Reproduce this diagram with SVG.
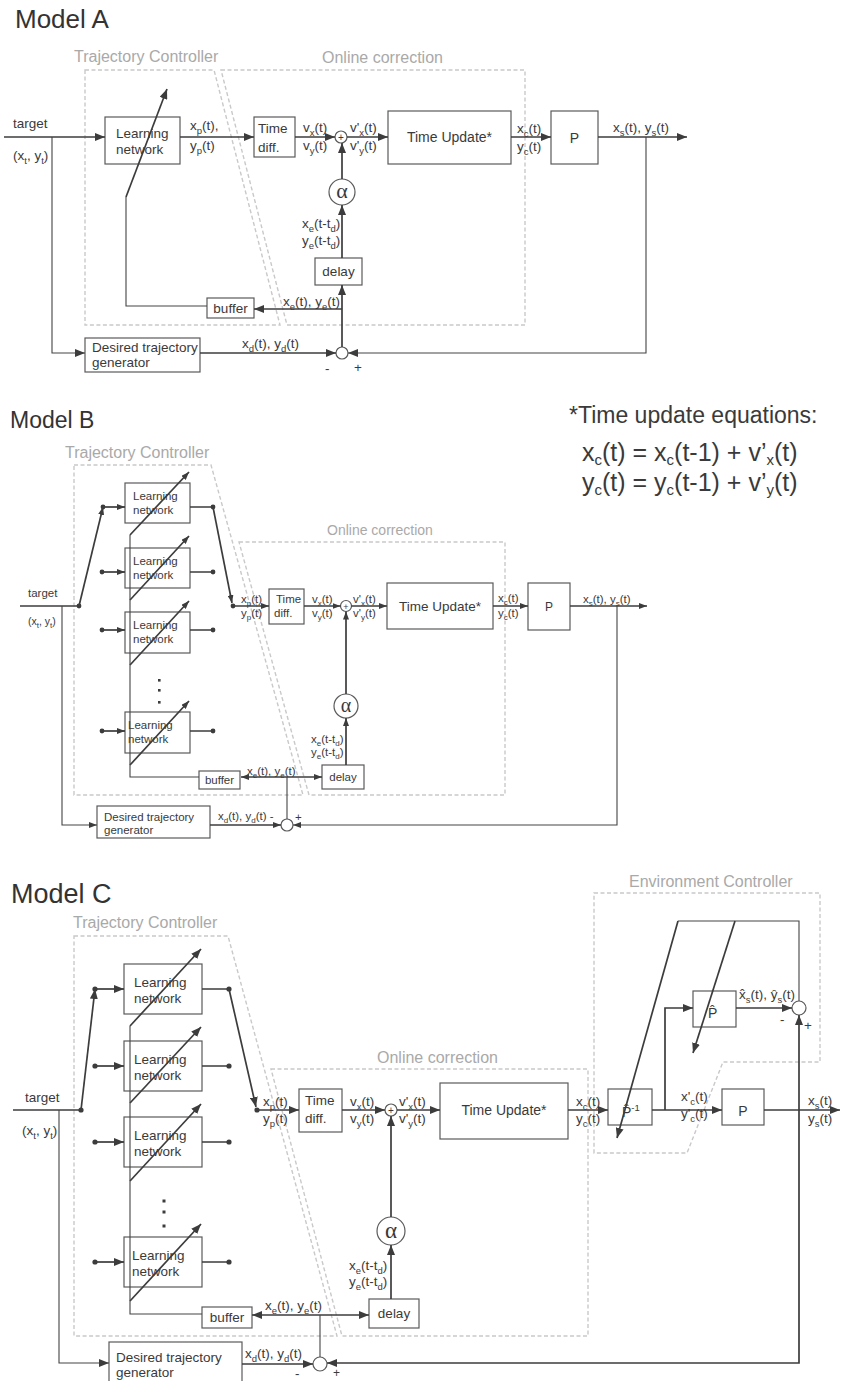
<svg xmlns="http://www.w3.org/2000/svg" width="841" height="1381" viewBox="0 0 841 1381">
<style>
text{font-family:"Liberation Sans",Arial,Helvetica,sans-serif;fill:#3a3a3a}
.ta{font-size:13.5px}
.tb{font-size:11.5px}
.sa{font-size:9.5px}
.sb{font-size:8px}
.eq{font-size:25px}
.es{font-size:15px}
.grp{font-size:16px;fill:#a9a9a9}
.bx{fill:#fff;stroke:#5a5a5a;stroke-width:1.2}
.dz{fill:none;stroke:#c9c9c9;stroke-width:1.4;stroke-dasharray:4 2.5}
.ln{fill:none;stroke:#3c3c3c;stroke-width:1.7}
.lt{fill:none;stroke:#444;stroke-width:1.1}
.ar{marker-end:url(#ah)}
.arb{marker-end:url(#ahs)}
.dot{fill:#3c3c3c}
.mid{text-anchor:middle}
.al{font-family:"Liberation Serif","Times New Roman",serif}
</style>
<defs>
<marker id="ah" viewBox="0 0 10 8" refX="10" refY="4" markerWidth="10" markerHeight="8" markerUnits="userSpaceOnUse" orient="auto"><path d="M0,0 L10,4 L0,8 z" fill="#3c3c3c"/></marker>
<marker id="ahs" viewBox="0 0 8 6" refX="8" refY="3" markerWidth="8" markerHeight="6" markerUnits="userSpaceOnUse" orient="auto"><path d="M0,0 L8,3 L0,6 z" fill="#3c3c3c"/></marker>
</defs>
<rect width="841" height="1381" fill="#fff"/>

<!-- ================= MODEL A ================= -->
<g id="modelA">
<text x="15" y="28" style="font-size:26px;fill:#333">Model A</text>
<g id="a-traj-ctrl"><polygon class="dz" points="85,70 214,70 280,325 85,325"/><text class="grp" x="74" y="62">Trajectory Controller</text></g>
<g id="a-online"><polygon class="dz" points="221,70 525,70 525,325 287,325"/><text class="grp" x="322" y="63">Online correction</text></g>
<g id="a-ln"><rect class="bx" x="105" y="117" width="75" height="47"/><text class="ta" x="116" y="138">Learning</text><text class="ta" x="116" y="154">network</text></g>
<g id="a-timediff"><rect class="bx" x="254" y="117" width="41" height="40"/><text class="ta" x="258" y="133">Time</text><text class="ta" x="258" y="152">diff.</text></g>
<g id="a-sum1"><circle class="bx" cx="341" cy="137" r="6"/><text class="mid" x="341" y="141" font-size="10">+</text></g>
<g id="a-timeupdate"><rect class="bx" x="388" y="111" width="123" height="53"/><text class="mid" x="449.5" y="142" font-size="14">Time Update*</text></g>
<g id="a-plant"><rect class="bx" x="551" y="111" width="47" height="53"/><text class="mid" x="574.5" y="143" font-size="14">P</text></g>
<g id="a-desired"><rect class="bx" x="85" y="338" width="115" height="34"/><text class="ta" x="92" y="352">Desired trajectory</text><text class="ta" x="92" y="367">generator</text></g>
<g id="a-sum2"><circle class="bx" cx="342" cy="353" r="6"/></g>
<g id="a-delay"><rect class="bx" x="315" y="258" width="47" height="27"/><text class="ta mid" x="338.5" y="276">delay</text></g>
<g id="a-alpha"><circle class="bx" cx="342" cy="192" r="13"/><text class="al mid" x="342" y="198" font-size="22">α</text></g>
<g id="a-buffer"><rect class="bx" x="207" y="298" width="47" height="20"/><text class="ta mid" x="230.5" y="313">buffer</text></g>
</g>

<g id="a-connectors">
<path class="ln ar" d="M4,137 H105"/>
<path class="lt ar" d="M52,137 V353 H85"/>
<path class="ln ar" d="M180,137 H254"/>
<path class="ln ar" d="M295,137 H335"/>
<path class="ln ar" d="M347,137 H388"/>
<path class="ln ar" d="M511,137 H551"/>
<path class="ln ar" d="M598,137 H687"/>
<path class="lt ar" d="M646,137 V353 H348"/>
<path class="ln ar" d="M200,353 H336"/>
<path class="ln ar" d="M342,347 V285"/>
<path class="ln ar" d="M342,309 H254"/>
<path class="ln ar" d="M342,258 V205"/>
<path class="ln ar" d="M342,179 V143"/>
<path class="lt" d="M207,306 H126 V197"/>
<path class="ln ar" d="M126,197 L167,89"/>
</g>
<g id="a-labels">
<text class="ta" x="13" y="128">target</text>
<text class="ta" x="13" y="160">(x<tspan class="sa" dy="3.5">t</tspan><tspan dy="-3.5">, y</tspan><tspan class="sa" dy="3.5">t</tspan><tspan dy="-3.5">)</tspan></text>
<text class="ta" x="190" y="130">x<tspan class="sa" dy="3.5">p</tspan><tspan dy="-3.5">(t),</tspan></text>
<text class="ta" x="190" y="150">y<tspan class="sa" dy="3.5">p</tspan><tspan dy="-3.5">(t)</tspan></text>
<text class="ta" x="303" y="132">v<tspan class="sa" dy="3.5">x</tspan><tspan dy="-3.5">(t)</tspan></text>
<text class="ta" x="303" y="150">v<tspan class="sa" dy="3.5">y</tspan><tspan dy="-3.5">(t)</tspan></text>
<text class="ta" x="350" y="132">v'<tspan class="sa" dy="3.5">x</tspan><tspan dy="-3.5">(t)</tspan></text>
<text class="ta" x="350" y="150">v'<tspan class="sa" dy="3.5">y</tspan><tspan dy="-3.5">(t)</tspan></text>
<text class="ta" x="517" y="133">x<tspan class="sa" dy="3.5">c</tspan><tspan dy="-3.5">(t)</tspan></text>
<text class="ta" x="517" y="151">y<tspan class="sa" dy="3.5">c</tspan><tspan dy="-3.5">(t)</tspan></text>
<text class="ta" x="613" y="132">x<tspan class="sa" dy="3.5">s</tspan><tspan dy="-3.5">(t), y</tspan><tspan class="sa" dy="3.5">s</tspan><tspan dy="-3.5">(t)</tspan></text>
<text class="ta" x="242" y="348">x<tspan class="sa" dy="3.5">d</tspan><tspan dy="-3.5">(t), y</tspan><tspan class="sa" dy="3.5">d</tspan><tspan dy="-3.5">(t)</tspan></text>
<text class="ta" x="283" y="306">x<tspan class="sa" dy="3.5">e</tspan><tspan dy="-3.5">(t), y</tspan><tspan class="sa" dy="3.5">e</tspan><tspan dy="-3.5">(t)</tspan></text>
<text class="ta" x="302" y="228">x<tspan class="sa" dy="3.5">e</tspan><tspan dy="-3.5">(t-t</tspan><tspan class="sa" dy="3.5">d</tspan><tspan dy="-3.5">)</tspan></text>
<text class="ta" x="302" y="245">y<tspan class="sa" dy="3.5">e</tspan><tspan dy="-3.5">(t-t</tspan><tspan class="sa" dy="3.5">d</tspan><tspan dy="-3.5">)</tspan></text>
<text class="ta" x="325" y="373">-</text>
<text class="ta" x="354" y="372">+</text>
</g>

<!-- ================= MODEL B ================= -->
<g id="modelB">
<text x="10" y="428" style="font-size:23px;fill:#333">Model B</text>
<g id="eqs">
<text x="569" y="423" style="font-size:23px">*Time update equations:</text>
<text class="eq" x="582" y="461">x<tspan class="es" dy="4">c</tspan><tspan dy="-4">(t) = x</tspan><tspan class="es" dy="4">c</tspan><tspan dy="-4">(t-1) + v’</tspan><tspan class="es" dy="4">x</tspan><tspan dy="-4">(t)</tspan></text>
<text class="eq" x="582" y="491">y<tspan class="es" dy="4">c</tspan><tspan dy="-4">(t) = y</tspan><tspan class="es" dy="4">c</tspan><tspan dy="-4">(t-1) + v’</tspan><tspan class="es" dy="4">y</tspan><tspan dy="-4">(t)</tspan></text>
</g>
<g id="b-traj-ctrl"><polygon class="dz" points="74,465 211,465 303,795 74,795"/><text class="grp" x="65" y="458">Trajectory Controller</text></g>
<g id="b-online"><polygon class="dz" points="239,542 505,542 505,795 309,795"/><text class="grp" x="327" y="535" style="font-size:14px">Online correction</text></g>
<g id="b-ln1"><rect class="bx" x="125" y="483" width="65" height="40"/><text class="tb" x="133" y="500">Learning</text><text class="tb" x="133" y="514">network</text></g>
<g id="b-ln2"><rect class="bx" x="125" y="548" width="65" height="40"/><text class="tb" x="133" y="565">Learning</text><text class="tb" x="133" y="579">network</text></g>
<g id="b-ln3"><rect class="bx" x="125" y="612" width="65" height="41"/><text class="tb" x="133" y="629">Learning</text><text class="tb" x="133" y="643">network</text></g>
<g id="b-ln4"><rect class="bx" x="125" y="712" width="65" height="41"/><text class="tb" x="128" y="729">Learning</text><text class="tb" x="128" y="743">network</text></g>
<g id="b-dots"><rect class="dot" x="158" y="679" width="2.6" height="2.6"/><rect class="dot" x="158" y="689" width="2.6" height="2.6"/><rect class="dot" x="158" y="701" width="2.6" height="2.6"/></g>
<g id="b-timediff"><rect class="bx" x="269" y="589" width="35" height="35"/><text class="tb" x="276" y="603">Time</text><text class="tb" x="274" y="617">diff.</text></g>
<g id="b-sum1"><circle class="bx" cx="346" cy="606" r="5.5"/><text class="mid" x="346" y="609.5" font-size="9">+</text></g>
<g id="b-timeupdate"><rect class="bx" x="387" y="583" width="106" height="46"/><text class="mid" x="440" y="611" font-size="13.5">Time Update*</text></g>
<g id="b-plant"><rect class="bx" x="528" y="583" width="42" height="47"/><text class="mid" x="549" y="611" font-size="12">P</text></g>
<g id="b-alpha"><circle class="bx" cx="346" cy="706" r="12"/><text class="al mid" x="346" y="712" font-size="20">α</text></g>
<g id="b-delay"><rect class="bx" x="322" y="765" width="42" height="24"/><text class="tb mid" x="343" y="781">delay</text></g>
<g id="b-buffer"><rect class="bx" x="199" y="771" width="41" height="18"/><text class="tb mid" x="219.5" y="784">buffer</text></g>
<g id="b-desired"><rect class="bx" x="97" y="806" width="113" height="32"/><text class="tb" x="104" y="821">Desired trajectory</text><text class="tb" x="104" y="834">generator</text></g>
<g id="b-sum2"><circle class="bx" cx="287" cy="825" r="6"/></g>
</g>

<g id="b-connectors">
<path class="ln" d="M20,606 H79"/>
<path class="lt arb" d="M62,606 V825 H97"/>
<path class="ln arb" d="M79,606 L103,507"/>
<path class="ln arb" d="M103,507 H125"/>
<path class="ln arb" d="M102,572 H125"/>
<path class="ln arb" d="M102,630 H125"/>
<path class="ln arb" d="M102,731 H125"/>
<path class="ln" d="M190,507 H213 M190,572 H213 M190,630 H213 M190,731 H213"/>
<path class="ln arb" d="M213,507 L232,603"/>
<path class="ln arb" d="M233,606 H269"/>
<path class="ln arb" d="M130,535 L189,472"/>
<path class="ln arb" d="M130,600 L189,536"/>
<path class="ln arb" d="M130,665 L189,601"/>
<path class="ln arb" d="M130,765 L189,701"/>
<path class="lt" d="M130,535 V777 H199"/>
<path class="ln arb" d="M287,777 H241"/>
<path class="ln arb" d="M287,777 H322"/>
<path class="lt" d="M287,777 V819"/>
<path class="ln arb" d="M210,825 H281"/>
<path class="lt arb" d="M617,606 V825 H293"/>
<path class="ln arb" d="M304,606 H340.5"/>
<path class="ln arb" d="M351.5,606 H387"/>
<path class="ln arb" d="M493,606 H528"/>
<path class="ln arb" d="M570,606 H647"/>
<path class="ln arb" d="M346,765 V718"/>
<path class="ln arb" d="M346,694 V611.5"/>
<g class="dot"><circle cx="79" cy="606" r="2.4"/><circle cx="103" cy="507" r="2.4"/><circle cx="102" cy="572" r="2.4"/><circle cx="102" cy="630" r="2.4"/><circle cx="102" cy="731" r="2.4"/><circle cx="213" cy="507" r="2.4"/><circle cx="213" cy="572" r="2.4"/><circle cx="213" cy="630" r="2.4"/><circle cx="213" cy="731" r="2.4"/><circle cx="233" cy="606" r="2.4"/></g>
</g>
<g id="b-labels">
<text class="tb" x="28" y="597">target</text>
<text x="28" y="625" font-size="10.5">(x<tspan class="sb" dy="3">t</tspan><tspan dy="-3">, y</tspan><tspan class="sb" dy="3">t</tspan><tspan dy="-3">)</tspan></text>
<text class="tb" x="241" y="603">x<tspan class="sb" dy="3">p</tspan><tspan dy="-3">(t)</tspan></text>
<text class="tb" x="241" y="617">y<tspan class="sb" dy="3">p</tspan><tspan dy="-3">(t)</tspan></text>
<text class="tb" x="312" y="603">v<tspan class="sb" dy="3">x</tspan><tspan dy="-3">(t)</tspan></text>
<text class="tb" x="312" y="617">v<tspan class="sb" dy="3">y</tspan><tspan dy="-3">(t)</tspan></text>
<text class="tb" x="353" y="603">v'<tspan class="sb" dy="3">x</tspan><tspan dy="-3">(t)</tspan></text>
<text class="tb" x="353" y="617">v'<tspan class="sb" dy="3">y</tspan><tspan dy="-3">(t)</tspan></text>
<text class="tb" x="498" y="602">x<tspan class="sb" dy="3">c</tspan><tspan dy="-3">(t)</tspan></text>
<text class="tb" x="498" y="617">y<tspan class="sb" dy="3">c</tspan><tspan dy="-3">(t)</tspan></text>
<text class="tb" x="583" y="603">x<tspan class="sb" dy="3">s</tspan><tspan dy="-3">(t), y</tspan><tspan class="sb" dy="3">s</tspan><tspan dy="-3">(t)</tspan></text>
<text class="tb" x="247" y="775">x<tspan class="sb" dy="3">e</tspan><tspan dy="-3">(t), y</tspan><tspan class="sb" dy="3">e</tspan><tspan dy="-3">(t)</tspan></text>
<text class="tb" x="311" y="743">x<tspan class="sb" dy="3">e</tspan><tspan dy="-3">(t-t</tspan><tspan class="sb" dy="3">d</tspan><tspan dy="-3">)</tspan></text>
<text class="tb" x="311" y="756">y<tspan class="sb" dy="3">e</tspan><tspan dy="-3">(t-t</tspan><tspan class="sb" dy="3">d</tspan><tspan dy="-3">)</tspan></text>
<text class="tb" x="218" y="820">x<tspan class="sb" dy="3">d</tspan><tspan dy="-3">(t), y</tspan><tspan class="sb" dy="3">d</tspan><tspan dy="-3">(t) -</tspan></text>
<text class="tb" x="295" y="821">+</text>
</g>

<!-- ================= MODEL C ================= -->
<g id="modelC">
<text x="11" y="903" style="font-size:27px;fill:#333">Model C</text>
<g id="c-traj-ctrl"><polygon class="dz" points="74,936 228,936 337,1336 74,1336"/><text class="grp" x="73" y="928">Trajectory Controller</text></g>
<g id="c-online"><polygon class="dz" points="271,1069 588,1069 588,1336 342,1336"/><text class="grp" x="377" y="1063">Online correction</text></g>
<g id="c-env"><polygon class="dz" points="594,893 820,893 820,1062 723,1062 687,1153 594,1153"/><text class="grp" x="629" y="887">Environment Controller</text></g>
<g id="c-ln1"><rect class="bx" x="124" y="964" width="78" height="50"/><text class="ta" x="134" y="987">Learning</text><text class="ta" x="134" y="1003">network</text></g>
<g id="c-ln2"><rect class="bx" x="124" y="1041" width="78" height="50"/><text class="ta" x="134" y="1064">Learning</text><text class="ta" x="134" y="1080">network</text></g>
<g id="c-ln3"><rect class="bx" x="124" y="1117" width="78" height="50"/><text class="ta" x="134" y="1140">Learning</text><text class="ta" x="134" y="1156">network</text></g>
<g id="c-ln4"><rect class="bx" x="124" y="1237" width="78" height="50"/><text class="ta" x="132" y="1260">Learning</text><text class="ta" x="132" y="1276">network</text></g>
<g id="c-dots"><rect class="dot" x="162.5" y="1199.5" width="3" height="3"/><rect class="dot" x="162.5" y="1210.5" width="3" height="3"/><rect class="dot" x="162.5" y="1224.5" width="3" height="3"/></g>
<g id="c-timediff"><rect class="bx" x="299" y="1089" width="43" height="43"/><text class="ta" x="305" y="1105">Time</text><text class="ta" x="305" y="1123">diff.</text></g>
<g id="c-sum1"><circle class="bx" cx="391" cy="1110" r="6"/><text class="mid" x="391" y="1114" font-size="10">+</text></g>
<g id="c-timeupdate"><rect class="bx" x="440" y="1083" width="128" height="56"/><text class="mid" x="504" y="1115" font-size="14">Time Update*</text></g>
<g id="c-alpha"><circle class="bx" cx="391" cy="1231" r="14"/><text class="al mid" x="391" y="1238" font-size="23">α</text></g>
<g id="c-delay"><rect class="bx" x="369" y="1299" width="50" height="29"/><text class="ta mid" x="394" y="1318">delay</text></g>
<g id="c-buffer"><rect class="bx" x="202" y="1307" width="50" height="21"/><text class="ta mid" x="227" y="1322">buffer</text></g>
<g id="c-desired"><rect class="bx" x="109" y="1342" width="133" height="46"/><text class="ta" x="116" y="1362">Desired trajectory</text><text class="ta" x="116" y="1377">generator</text></g>
<g id="c-sum2"><circle class="bx" cx="320" cy="1364" r="7"/></g>
<g id="c-pinv"><rect class="bx" x="608" y="1089" width="44" height="36"/><text x="622" y="1117" font-size="14">P&#x302;<tspan font-size="9.5" dy="-6">-1</tspan></text></g>
<g id="c-phat"><rect class="bx" x="693" y="991" width="43" height="36"/><text x="708" y="1018" font-size="14">P&#x302;</text></g>
<g id="c-plant"><rect class="bx" x="722" y="1089" width="42" height="36"/><text class="mid" x="743" y="1116" font-size="14">P</text></g>
<g id="c-sum3"><circle class="bx" cx="799" cy="1008" r="7"/></g>
</g>

<g id="c-connectors">
<path class="ln" d="M13,1110 H81"/>
<path class="lt ar" d="M59,1110 V1363 H109"/>
<path class="ln ar" d="M81,1110 L95,989"/>
<path class="ln ar" d="M95,989 H124"/>
<path class="ln ar" d="M95,1066 H124"/>
<path class="ln ar" d="M95,1142 H124"/>
<path class="ln ar" d="M95,1262 H124"/>
<path class="ln" d="M202,989 H229 M202,1066 H229 M202,1142 H229 M202,1262 H229"/>
<path class="ln ar" d="M229,989 L256,1107"/>
<path class="ln ar" d="M257,1110 H299"/>
<path class="ln ar" d="M130,1026 L201,949"/>
<path class="ln ar" d="M130,1103 L201,1027"/>
<path class="ln ar" d="M130,1181 L201,1104"/>
<path class="ln ar" d="M130,1301 L201,1224"/>
<path class="lt" d="M130,1026 V1314 H202"/>
<path class="ln ar" d="M320,1315 H252"/>
<path class="ln ar" d="M320,1315 H369"/>
<path class="lt" d="M320,1315 V1357"/>
<path class="ln ar" d="M242,1364 H313"/>
<path class="ln ar" d="M799,1110 V1363 H327"/>
<path class="ln ar" d="M342,1110 H385"/>
<path class="ln ar" d="M397,1110 H440"/>
<path class="ln ar" d="M568,1110 H608"/>
<path class="ln ar" d="M391,1299 V1245"/>
<path class="ln ar" d="M391,1217 V1116"/>
<path class="ln ar" d="M652,1110 H722"/>
<path class="ln ar" d="M665,1110 V1008 H693"/>
<path class="ln ar" d="M736,1008 H792"/>
<path class="ln ar" d="M764,1110 H840"/>
<path class="ln ar" d="M799,1110 V1015"/>
<path class="lt" d="M799,1001 V921 H678"/>
<path class="ln ar" d="M678,921 L617,1138"/>
<path class="ln ar" d="M735,921 L693,1053"/>
<g class="dot"><circle cx="81" cy="1110" r="2.6"/><circle cx="95" cy="989" r="2.6"/><circle cx="95" cy="1066" r="2.6"/><circle cx="95" cy="1142" r="2.6"/><circle cx="95" cy="1262" r="2.6"/><circle cx="229" cy="989" r="2.6"/><circle cx="229" cy="1066" r="2.6"/><circle cx="229" cy="1142" r="2.6"/><circle cx="229" cy="1262" r="2.6"/><circle cx="257" cy="1110" r="2.6"/></g>
</g>
<g id="c-labels">
<text class="ta" x="25" y="1102">target</text>
<text class="ta" x="22" y="1135">(x<tspan class="sa" dy="3.5">t</tspan><tspan dy="-3.5">, y</tspan><tspan class="sa" dy="3.5">t</tspan><tspan dy="-3.5">)</tspan></text>
<text class="ta" x="263" y="1106">x<tspan class="sa" dy="3.5">p</tspan><tspan dy="-3.5">(t)</tspan></text>
<text class="ta" x="263" y="1123">y<tspan class="sa" dy="3.5">p</tspan><tspan dy="-3.5">(t)</tspan></text>
<text class="ta" x="350" y="1106">v<tspan class="sa" dy="3.5">x</tspan><tspan dy="-3.5">(t)</tspan></text>
<text class="ta" x="350" y="1123">v<tspan class="sa" dy="3.5">y</tspan><tspan dy="-3.5">(t)</tspan></text>
<text class="ta" x="399" y="1106">v'<tspan class="sa" dy="3.5">x</tspan><tspan dy="-3.5">(t)</tspan></text>
<text class="ta" x="399" y="1123">v'<tspan class="sa" dy="3.5">y</tspan><tspan dy="-3.5">(t)</tspan></text>
<text class="ta" x="576" y="1106">x<tspan class="sa" dy="3.5">c</tspan><tspan dy="-3.5">(t)</tspan></text>
<text class="ta" x="576" y="1123">y<tspan class="sa" dy="3.5">c</tspan><tspan dy="-3.5">(t)</tspan></text>
<text class="ta" x="681" y="1101">x'<tspan class="sa" dy="3.5">c</tspan><tspan dy="-3.5">(t)</tspan></text>
<text class="ta" x="681" y="1118">y'<tspan class="sa" dy="3.5">c</tspan><tspan dy="-3.5">(t)</tspan></text>
<text class="ta" x="808" y="1105">x<tspan class="sa" dy="3.5">s</tspan><tspan dy="-3.5">(t)</tspan></text>
<text class="ta" x="808" y="1123">y<tspan class="sa" dy="3.5">s</tspan><tspan dy="-3.5">(t)</tspan></text>
<text class="ta" x="739" y="999">x&#x302;<tspan class="sa" dy="3.5">s</tspan><tspan dy="-3.5">(t), y&#x302;</tspan><tspan class="sa" dy="3.5">s</tspan><tspan dy="-3.5">(t)</tspan></text>
<text class="ta" x="780" y="1024">-</text>
<text class="ta" x="804" y="1030">+</text>
<text class="ta" x="265" y="1310">x<tspan class="sa" dy="3.5">e</tspan><tspan dy="-3.5">(t), y</tspan><tspan class="sa" dy="3.5">e</tspan><tspan dy="-3.5">(t)</tspan></text>
<text class="ta" x="349" y="1270">x<tspan class="sa" dy="3.5">e</tspan><tspan dy="-3.5">(t-t</tspan><tspan class="sa" dy="3.5">d</tspan><tspan dy="-3.5">)</tspan></text>
<text class="ta" x="349" y="1286">y<tspan class="sa" dy="3.5">e</tspan><tspan dy="-3.5">(t-t</tspan><tspan class="sa" dy="3.5">d</tspan><tspan dy="-3.5">)</tspan></text>
<text class="ta" x="245" y="1358">x<tspan class="sa" dy="3.5">d</tspan><tspan dy="-3.5">(t), y</tspan><tspan class="sa" dy="3.5">d</tspan><tspan dy="-3.5">(t)</tspan></text>
<text class="ta" x="295" y="1378">-</text>
<text x="333" y="1377" font-size="12">+</text>
</g>
</svg>
